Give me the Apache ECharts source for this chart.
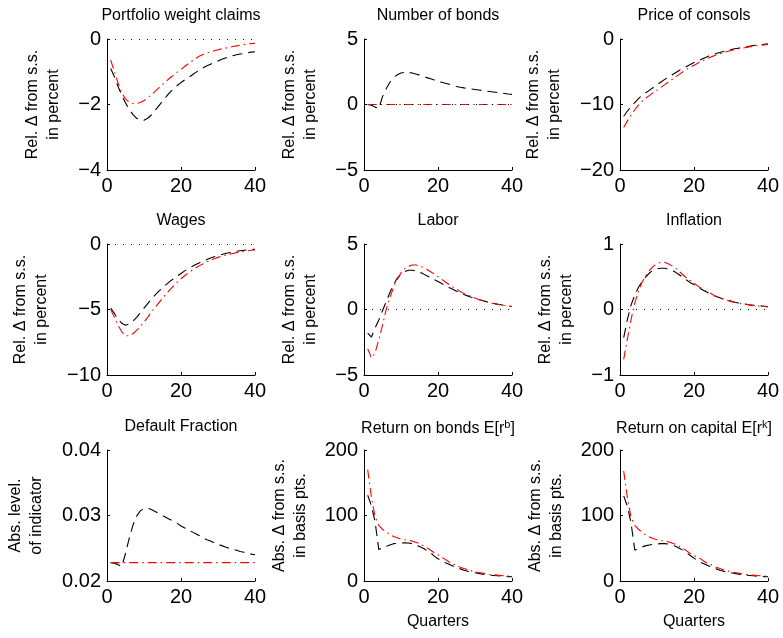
<!DOCTYPE html>
<html>
<head>
<meta charset="utf-8">
<script src="https://cdn.jsdelivr.net/npm/echarts@6/dist/echarts.min.js"></script>
<style>
html,body{margin:0;padding:0;background:#fff;}
#chart{width:783px;height:638px;}
</style>
</head>
<body>
<div id="chart"></div>
<script>
// ---------- data ----------
const quarters = [1,2,3,4,5,6,7,8,9,10,11,12,13,14,15,16,17,18,19,20,21,22,23,24,25,26,27,28,29,30,31,32,33,34,35,36,37,38,39,40];
const xTicks = [0, 20, 40];

const titles = ["Portfolio weight claims","Number of bonds","Price of consols","Wages","Labor","Inflation","Default Fraction","Return on bonds E[r","Return on capital E[r"];
const titleSup = ["","","","","","","","b","k"];
const yNames = ["Rel. Δ from s.s.\nin percent","Rel. Δ from s.s.\nin percent","Rel. Δ from s.s.\nin percent","Rel. Δ from s.s.\nin percent","Rel. Δ from s.s.\nin percent","Rel. Δ from s.s.\nin percent","Abs. level.\nof indicator","Abs. Δ from s.s.\nin basis pts.","Abs. Δ from s.s.\nin basis pts."];
const yMin = [-4,-5,-20,-10,-5,-1,0.02,0,0];
const yMax = [0,5,0,0,5,1,0.04,200,200];
const yStep = [2,5,10,5,5,1,0.01,100,100];
const zeroLine = [true,true,false,true,true,true,false,false,false];

const portfolioBlack = [-0.9,-1.15,-1.45,-1.72,-1.95,-2.15,-2.3,-2.42,-2.48,-2.48,-2.42,-2.32,-2.18,-2.04,-1.9,-1.76,-1.63,-1.52,-1.42,-1.33,-1.25,-1.18,-1.1,-1.02,-0.95,-0.88,-0.82,-0.77,-0.72,-0.67,-0.62,-0.58,-0.55,-0.51,-0.48,-0.46,-0.44,-0.42,-0.4,-0.39];
const portfolioRed = [-0.64,-1.0,-1.35,-1.65,-1.83,-1.93,-1.97,-1.97,-1.94,-1.88,-1.8,-1.7,-1.6,-1.49,-1.39,-1.29,-1.19,-1.1,-1.01,-0.93,-0.84,-0.75,-0.67,-0.59,-0.52,-0.47,-0.43,-0.39,-0.36,-0.33,-0.3,-0.28,-0.26,-0.23,-0.21,-0.19,-0.17,-0.15,-0.14,-0.13];

const bondsBlack = [0,-0.05,-0.2,-0.3,0.6,1.2,1.7,2.05,2.28,2.4,2.45,2.45,2.4,2.33,2.24,2.15,2.05,1.96,1.87,1.78,1.7,1.62,1.54,1.46,1.38,1.32,1.27,1.23,1.19,1.15,1.11,1.07,1.03,0.99,0.95,0.91,0.87,0.84,0.8,0.77];
const bondsRed = [0,0,0,0,0,0,0,0,0,0,0,0,0,0,0,0,0,0,0,0,0,0,0,0,0,0,0,0,0,0,0,0,0,0,0,0,0,0,0,0];

const consolsBlack = [-11.8,-11.0,-10.3,-9.7,-9.1,-8.6,-8.2,-7.8,-7.4,-7.0,-6.6,-6.2,-5.85,-5.5,-5.15,-4.8,-4.5,-4.2,-3.9,-3.6,-3.35,-3.1,-2.85,-2.6,-2.4,-2.2,-2.05,-1.9,-1.75,-1.6,-1.5,-1.4,-1.3,-1.2,-1.1,-1.0,-0.95,-0.88,-0.8,-0.75];
const consolsRed = [-13.5,-12.5,-11.6,-10.8,-10.1,-9.5,-9.0,-8.6,-8.2,-7.8,-7.4,-7.0,-6.6,-6.2,-5.8,-5.4,-5.0,-4.65,-4.3,-4.0,-3.7,-3.4,-3.15,-2.9,-2.65,-2.45,-2.25,-2.05,-1.9,-1.75,-1.6,-1.5,-1.4,-1.3,-1.2,-1.1,-1.03,-0.96,-0.9,-0.85];

const wagesBlack = [-4.9,-5.3,-5.75,-6.05,-6.2,-6.1,-5.9,-5.6,-5.25,-4.9,-4.55,-4.2,-3.9,-3.6,-3.35,-3.1,-2.85,-2.65,-2.45,-2.25,-2.05,-1.88,-1.72,-1.57,-1.43,-1.3,-1.18,-1.07,-0.97,-0.88,-0.8,-0.73,-0.67,-0.61,-0.56,-0.52,-0.48,-0.45,-0.42,-0.4];
const wagesRed = [-5.0,-5.6,-6.2,-6.7,-7.0,-7.0,-6.85,-6.6,-6.3,-5.95,-5.6,-5.2,-4.85,-4.5,-4.15,-3.8,-3.5,-3.2,-2.9,-2.65,-2.42,-2.2,-2.0,-1.82,-1.65,-1.5,-1.36,-1.23,-1.12,-1.02,-0.93,-0.85,-0.78,-0.72,-0.66,-0.61,-0.56,-0.52,-0.48,-0.45];

const laborBlack = [-1.8,-2.1,-1.4,-0.8,-0.1,0.6,1.3,1.9,2.4,2.7,2.9,3.0,3.0,2.95,2.85,2.72,2.58,2.43,2.28,2.13,1.98,1.83,1.68,1.54,1.4,1.27,1.15,1.04,0.94,0.85,0.76,0.68,0.6,0.53,0.47,0.41,0.36,0.31,0.27,0.23];
const laborRed = [-3.0,-3.7,-3.3,-2.3,-1.2,0.0,0.9,1.7,2.3,2.8,3.1,3.3,3.4,3.4,3.32,3.2,3.05,2.88,2.7,2.5,2.3,2.1,1.9,1.72,1.55,1.38,1.23,1.1,0.98,0.87,0.77,0.68,0.6,0.52,0.46,0.4,0.35,0.3,0.26,0.23];

const inflationBlack = [-0.43,-0.15,0.07,0.22,0.34,0.43,0.5,0.56,0.6,0.62,0.63,0.63,0.62,0.6,0.57,0.53,0.49,0.45,0.41,0.38,0.34,0.31,0.28,0.25,0.22,0.2,0.18,0.16,0.14,0.13,0.11,0.1,0.09,0.08,0.07,0.065,0.06,0.055,0.05,0.045];
const inflationRed = [-0.76,-0.45,-0.15,0.1,0.28,0.42,0.52,0.6,0.66,0.7,0.72,0.72,0.7,0.67,0.63,0.58,0.53,0.48,0.44,0.4,0.36,0.32,0.29,0.26,0.23,0.2,0.18,0.16,0.14,0.12,0.11,0.1,0.09,0.08,0.07,0.06,0.055,0.05,0.045,0.04];

const defaultBlack = [0.0228,0.0227,0.0225,0.0222,0.0242,0.0265,0.0285,0.0299,0.0307,0.0311,0.0311,0.0309,0.0306,0.0303,0.03,0.0297,0.0294,0.0291,0.0288,0.0284,0.0281,0.0278,0.0275,0.0272,0.0269,0.0266,0.0263,0.0261,0.0258,0.0256,0.0254,0.0252,0.025,0.0248,0.0247,0.0245,0.0244,0.0242,0.0241,0.024];
const defaultRed = [0.0228,0.0228,0.0228,0.0228,0.0228,0.0228,0.0228,0.0228,0.0228,0.0228,0.0228,0.0228,0.0228,0.0228,0.0228,0.0228,0.0228,0.0228,0.0228,0.0228,0.0228,0.0228,0.0228,0.0228,0.0228,0.0228,0.0228,0.0228,0.0228,0.0228,0.0228,0.0228,0.0228,0.0228,0.0228,0.0228,0.0228,0.0228,0.0228,0.0228];

const rbBlack = [131,115,90,48,51,53,55,57,57.5,58,58.5,58,57,55,52.5,50,46.5,43,38,34,31,28,25.5,23,20.5,18.5,16.5,15,13.5,12.5,11.5,10.5,10,9,8.5,8,7.5,7,6.7,6.4];
const rbRed = [170,128,98,85,79,75,71,68,66,64,63,62,61,59,57,54,51,47,43,40,36,33,29,26,24,21,19,17,15.5,14,13,12,11,10,9.5,9,8.5,8,7.5,7];

const rkBlack = [130,114,88,47,50,52,54,55,56,56.5,57,57,56.5,55,53,50,47,43,39,35,31,28,25.5,23,20.5,18.5,16.5,15,13.5,12.5,11.5,10.5,10,9,8.5,8,7.5,7,6.7,6.4];
const rkRed = [168,127,97,85,79,74,70,67,65,63,62,61,60,58,56,53,50,46,42,39,36,33,29,26,24,21,19,17,15.5,14,13,12,11,10,9.5,9,8.5,8,7.5,7];

const blackSeries = [portfolioBlack,bondsBlack,consolsBlack,wagesBlack,laborBlack,inflationBlack,defaultBlack,rbBlack,rkBlack];
const redSeries = [portfolioRed,bondsRed,consolsRed,wagesRed,laborRed,inflationRed,defaultRed,rbRed,rkRed];

// ---------- layout ----------
const gridLefts = [107, 364, 620];
const gridTops = [39, 244, 450];
const gridW = 148, gridH = 131;
const nameGaps = [43,43,55,55,43,43,60,53,53];

const FONT = 'Liberation Sans, Arial, Helvetica, sans-serif';
const chart = echarts.init(document.getElementById('chart'), null, {renderer:'canvas'});

const grid = [], xAxis = [], yAxis = [], series = [], title = [];
for (let i = 0; i < 9; i++) {
  const r = Math.floor(i / 3), c = i % 3;
  const left = gridLefts[c], top = gridTops[r];
  grid.push({left: left, top: top, width: gridW, height: gridH, containLabel: false});
  title.push({
    text: titleSup[i] ? '{m|' + titles[i] + '}{s|' + titleSup[i] + '}{m|]}' : titles[i],
    left: left + gridW / 2, top: top - 31, textAlign: 'center', padding: 0,
    textStyle: {fontFamily: FONT, fontSize: 16, fontWeight: 'normal', color: '#000',
      rich: {m: {fontFamily: FONT, fontSize: 16, color: '#000'},
             s: {fontFamily: FONT, fontSize: 11, color: '#000', verticalAlign: 'top', padding: [0,0,8,0]}}}
  });
  const isBottom = (r === 2 && c > 0);
  xAxis.push({
    gridIndex: i, type: 'value', min: xTicks[0], max: xTicks[xTicks.length - 1], interval: xTicks[1] - xTicks[0],
    name: isBottom ? 'Quarters' : '', nameLocation: 'middle', nameGap: 33,
    nameTextStyle: {fontFamily: FONT, fontSize: 16, color: '#000'},
    axisLine: {show: true, onZero: false, lineStyle: {color: '#000', width: 1}},
    axisTick: {show: true, inside: true, length: 3, lineStyle: {color: '#000'}},
    axisLabel: {fontFamily: FONT, fontSize: 20, color: '#000', margin: 6},
    splitLine: {show: false}
  });
  yAxis.push({
    gridIndex: i, type: 'value', min: yMin[i], max: yMax[i], interval: yStep[i],
    name: yNames[i], nameLocation: 'middle', nameRotate: 90, nameGap: nameGaps[i],
    nameTextStyle: {fontFamily: FONT, fontSize: 16, color: '#000', lineHeight: 21},
    axisLine: {show: true, onZero: false, lineStyle: {color: '#000', width: 1}},
    axisTick: {show: true, inside: true, length: 3, lineStyle: {color: '#000'}},
    axisLabel: {fontFamily: FONT, fontSize: 20, color: '#000', margin: 6,
      formatter: v => String(+v.toFixed(4)).replace('-', '\u2212')},
    splitLine: {show: false}
  });
  const blk = {
    type: 'line', xAxisIndex: i, yAxisIndex: i, showSymbol: false, symbol: 'none',
    data: quarters.map((q, k) => [q, blackSeries[i][k]]),
    lineStyle: {color: '#000', width: 1.1, type: [10, 6]},
    z: 3, animation: false, silent: true
  };
  if (zeroLine[i]) {
    blk.markLine = {silent: true, symbol: 'none', label: {show: false}, animation: false,
      lineStyle: {color: '#000', width: 1, type: [1, 7]}, data: [{yAxis: 0}]};
  }
  series.push(blk);
  series.push({
    type: 'line', xAxisIndex: i, yAxisIndex: i, showSymbol: false, symbol: 'none',
    data: quarters.map((q, k) => [q, redSeries[i][k]]),
    lineStyle: {color: '#ff0000', width: 1.1, type: [9, 4, 1.5, 4]},
    z: 4, animation: false, silent: true
  });
}

chart.setOption({
  backgroundColor: '#fff',
  animation: false,
  title: title, grid: grid, xAxis: xAxis, yAxis: yAxis, series: series
});
</script>
</body>
</html>
